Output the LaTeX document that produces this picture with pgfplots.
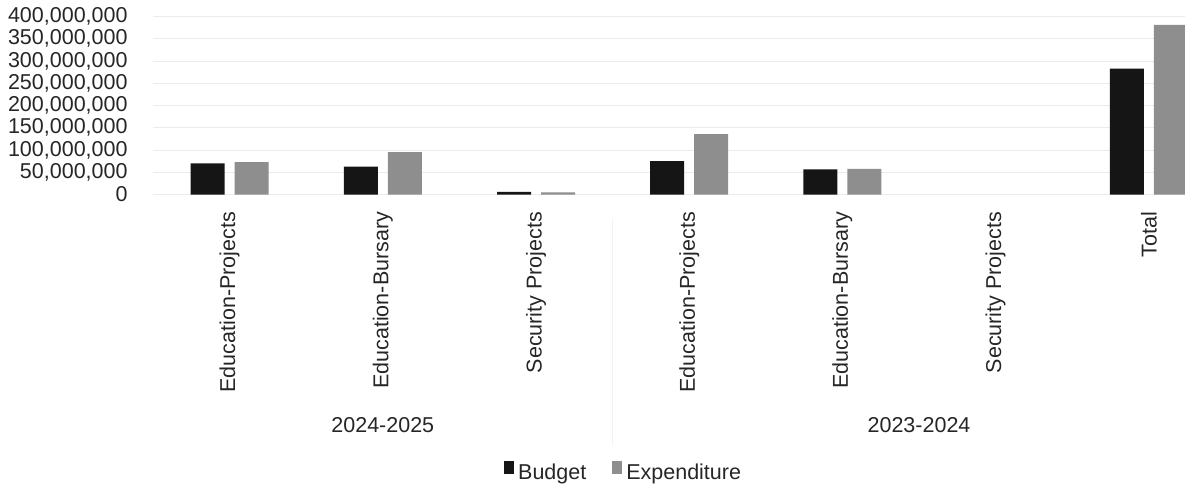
\documentclass[border=0pt]{standalone}
\usepackage{pgfplots}
\pgfplotsset{compat=1.18}
\usepackage{fontspec}
\setmainfont{Liberation Sans}
\definecolor{budget}{HTML}{151515}
\definecolor{expend}{HTML}{8E8E8E}
\begin{document}
\begin{tikzpicture}
\fontsize{10.75bp}{13bp}\selectfont
\begin{axis}[
  at={(0,0)}, anchor=south west,
  scale only axis, width=516bp, height=89bp,
  xmin=-0.5, xmax=6.236, ymin=0, ymax=400000000,
  ybar=5bp, bar width=17bp,
  axis line style={draw=none}, major tick length=0pt,
  ytick={0,50000000,100000000,150000000,200000000,250000000,300000000,350000000,400000000},
  scaled y ticks=false,
  ymajorgrids, grid style={black!8, line width=0.5pt},
  xtick={0,1,2,3,4,5,6},
  xticklabels={Education-Projects,Education-Bursary,Security Projects,Education-Projects,Education-Bursary,Security Projects,Total},
  xticklabel style={rotate=90, anchor=east, inner xsep=8.5bp, inner ysep=0pt, text=black!85},
  yticklabel style={inner xsep=12.5bp, text=black!85, /pgf/number format/.cd, fixed, precision=0, 1000 sep={,}, assume math mode=true},
  legend style={at={(0.457,-1.565)}, anchor=center, draw=none, fill=none, legend columns=-1,
    /tikz/every even column/.append style={column sep=11bp}, font=\fontsize{10.75bp}{13bp}\selectfont, text=black!85},
]
\addplot[fill=budget, draw=none,
  legend image code/.code={\fill[budget] (0bp,-0.5bp) rectangle (5bp,6bp);}]
  coordinates {(0,70000000) (1,62500000) (2,6000000) (3,75000000) (4,56500000) (6,283000000)};
\addlegendentry{Budget}
\addplot[fill=expend, draw=none,
  legend image code/.code={\fill[expend] (0bp,-0.5bp) rectangle (5bp,6bp);}]
  coordinates {(0,73000000) (1,95000000) (2,5000000) (3,135500000) (4,57500000) (6,381000000)};
\addlegendentry{Expenditure}
\coordinate (g1) at (axis cs:1,0);
\coordinate (g2) at (axis cs:4.5,0);
\coordinate (s1) at (axis cs:2.5,0);
\end{axis}
\draw[black!5, line width=0.5pt] ([yshift=-12bp]s1) -- ([yshift=-125bp]s1);
\node[text=black!85] at ([yshift=-115.25bp]g1) {2024-2025};
\node[text=black!85] at ([yshift=-115.25bp]g2) {2023-2024};
\pgfresetboundingbox
\useasboundingbox (-76.5bp,-148.25bp) rectangle (516bp,97.25bp);
\end{tikzpicture}
\end{document}
